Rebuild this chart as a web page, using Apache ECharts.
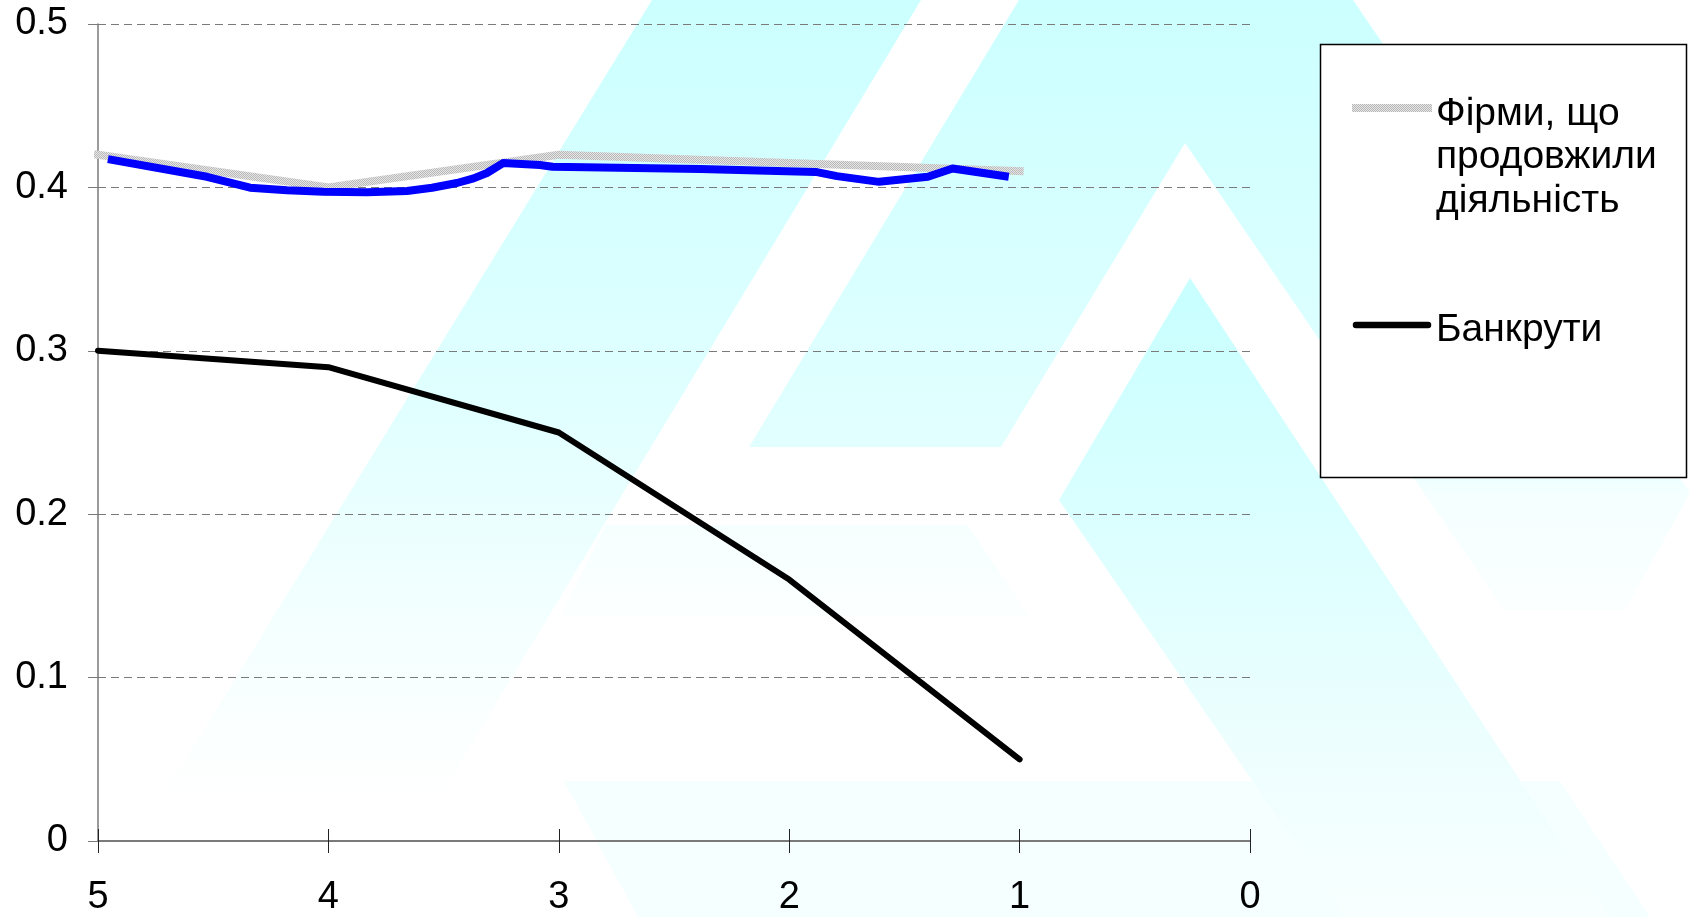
<!DOCTYPE html>
<html>
<head>
<meta charset="utf-8">
<script src="https://cdn.jsdelivr.net/npm/echarts@6/dist/echarts.min.js"></script>
<style>
  html, body { margin: 0; padding: 0; background: #ffffff; }
  #chart { width: 1690px; height: 917px; }
</style>
</head>
<body>
<div id="chart"></div>
<script>
// Years before the event (axis runs 5 → 0)
const xTickLabels = ['0', '1', '2', '3', '4', '5'];
const yTickLabels = ['0', '0.1', '0.2', '0.3', '0.4', '0.5'];

const years = [5, 4, 3, 2, 1];
// Firms that continued operating
const continuing = [0.42, 0.40, 0.42, 0.415, 0.41];
// Bankrupt firms
const bankrupt = [0.30, 0.29, 0.25, 0.16, 0.05];

// Freehand blue trace over the continuing-firms line
const traceX = [4.957, 4.527, 4.34, 4.18, 4.023, 3.832, 3.659, 3.55, 3.442, 3.37, 3.312, 3.242, 3.082, 3.027, 2.387, 1.885, 1.793, 1.610, 1.398, 1.291, 1.047];
const traceY = [0.4173, 0.4065, 0.3998, 0.3982, 0.3973, 0.3970, 0.3978, 0.3998, 0.4027, 0.4055, 0.4088, 0.4149, 0.4137, 0.4126, 0.4113, 0.4095, 0.4069, 0.4034, 0.4065, 0.4116, 0.4065];

const seriesNames = ['Фірми, що\nпродовжили\nдіяльність', 'Банкрути'];

const FONT = '"Liberation Sans", Arial, sans-serif';

// Dotted grey texture used for the continuing-firms line
function makeDotPattern() {
  const c = document.createElement('canvas');
  c.width = 2; c.height = 2;
  const g = c.getContext('2d');
  g.fillStyle = '#e6e6e6';
  g.fillRect(0, 0, 2, 2);
  g.fillStyle = '#b8b8b8';
  g.fillRect(0, 0, 1, 1);
  g.fillRect(1, 1, 1, 1);
  return c;
}
const dotPattern = { image: makeDotPattern(), repeat: 'repeat' };

// vertical gradient in page coordinates
function fade(y0, y1, stops) {
  return {
    type: 'linear', x: 0, y: y0, x2: 0, y2: y1, global: true,
    colorStops: stops.map(s => ({ offset: s[0], color: s[1] }))
  };
}

const chart = echarts.init(document.getElementById('chart'), null, { renderer: 'canvas' });

// Pale cyan logo shapes behind the plot
const backdrop = [
  // long left band
  { type: 'polygon', z: -10, silent: true,
    shape: { points: [[652, 0], [921, 0], [367, 917], [89, 917]] },
    style: { fill: fade(0, 800, [[0, '#ccffff'], [0.5, '#e0ffff'], [0.78, '#f4ffff'], [1, '#ffffff']]) } },
  // outer "A" outline
  { type: 'polygon', z: -10, silent: true,
    shape: { points: [[1019, 0], [1353, 0], [1690, 493], [1625, 610], [1504, 610], [1185, 143], [1001, 447], [749, 447]] },
    style: { fill: fade(0, 620, [[0, '#ccffff'], [0.72, '#e2ffff'], [0.8, '#f5ffff'], [1, '#fbffff']]) } },
  // faint crossbar
  { type: 'polygon', z: -10, silent: true,
    shape: { points: [[606, 525], [968, 525], [1030, 617], [560, 617]] },
    style: { fill: fade(525, 640, [[0, '#f6ffff'], [1, '#fdffff']]) } },
  // faint bottom band
  { type: 'polygon', z: -10, silent: true,
    shape: { points: [[564, 781], [1560, 781], [1650, 917], [638, 917]] },
    style: { fill: '#f5ffff' } },
  // inner pointed band
  { type: 'polygon', z: -9, silent: true,
    shape: { points: [[1190, 278], [1059, 500], [1346, 917], [1610, 917]] },
    style: { fill: fade(278, 917, [[0, '#c8ffff'], [0.4, '#dcffff'], [0.75, '#eefefe'], [1, '#f8ffff']]) } }
];

// Legend box
const legend = [
  { type: 'rect', z: 50, shape: { x: 1320.5, y: 44.5, width: 366, height: 433 },
    style: { fill: '#ffffff', stroke: '#000000', lineWidth: 1.5 } },
  { type: 'line', z: 51, shape: { x1: 1352, y1: 108, x2: 1432, y2: 108 },
    style: { stroke: dotPattern, lineWidth: 8 } },
  { type: 'text', z: 51, x: 1436, y: 92,
    style: { text: seriesNames[0], font: '39px ' + FONT, fill: '#000000',
             lineHeight: 43.5, verticalAlign: 'top', align: 'left' } },
  { type: 'line', z: 51, shape: { x1: 1356, y1: 325, x2: 1428, y2: 325 },
    style: { stroke: '#000000', lineWidth: 6.5, lineCap: 'round' } },
  { type: 'text', z: 51, x: 1436, y: 330,
    style: { text: seriesNames[1], font: '39px ' + FONT, fill: '#000000',
             verticalAlign: 'middle', align: 'left' } }
];

const baseX = {
  type: 'value', min: 0, max: 5, interval: 1, inverse: true, position: 'bottom'
};

chart.setOption({
  animation: false,
  backgroundColor: '#ffffff',
  grid: { left: 98, right: 440, top: 24, bottom: 75, containLabel: false },
  xAxis: [
    Object.assign({}, baseX, {
      axisLine: { show: true, onZero: false, lineStyle: { color: '#7a7a7a', width: 2 } },
      axisTick: { show: true, length: 12, lineStyle: { color: '#222222', width: 1 } },
      axisLabel: { show: true, margin: 38, color: '#000000', fontSize: 38, fontFamily: FONT,
                   formatter: v => xTickLabels[Math.round(v)] },
      splitLine: { show: false }
    }),
    Object.assign({}, baseX, {
      axisLine: { show: false },
      axisTick: { show: true, inside: true, length: 12, lineStyle: { color: '#222222', width: 1 } },
      axisLabel: { show: false },
      splitLine: { show: false }
    })
  ],
  yAxis: {
    type: 'value', min: 0, max: 0.5, interval: 0.1,
    axisLine: { show: true, onZero: false, lineStyle: { color: '#7a7a7a', width: 1.5 } },
    axisTick: { show: true, length: 10, lineStyle: { color: '#7a7a7a', width: 1 } },
    axisLabel: { margin: 30, color: '#000000', fontSize: 38, fontFamily: FONT,
                 formatter: v => yTickLabels[Math.round(v * 10)] },
    splitLine: { show: true, lineStyle: { color: '#7a7a7a', width: 1, type: [8, 5] } }
  },
  series: [
    {
      name: seriesNames[0], type: 'line', z: 3,
      data: years.map((x, i) => [x, continuing[i]]),
      showSymbol: false, symbol: 'none',
      lineStyle: { color: dotPattern, width: 8, cap: 'square' }
    },
    {
      name: 'trace', type: 'line', z: 4,
      data: traceX.map((x, i) => [x, traceY[i]]),
      showSymbol: false, symbol: 'none',
      lineStyle: { color: '#0000ff', width: 8, cap: 'butt', join: 'round' }
    },
    {
      name: seriesNames[1], type: 'line', z: 5,
      data: years.map((x, i) => [x, bankrupt[i]]),
      showSymbol: false, symbol: 'none',
      lineStyle: { color: '#000000', width: 6, cap: 'round', join: 'round' }
    }
  ],
  graphic: backdrop.concat(legend)
});
</script>
</body>
</html>
